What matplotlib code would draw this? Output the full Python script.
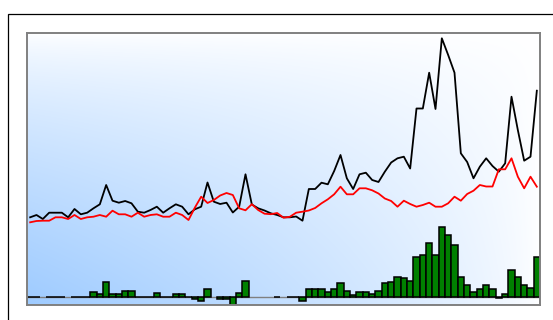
import numpy as np
import matplotlib
matplotlib.use('Agg')
import matplotlib.pyplot as plt
from matplotlib.patches import Rectangle

# series, one value per period
price = [79.2, 81.5, 77.5, 83.8, 83.8, 83.8, 79.2, 87.5, 82.2, 83.8,
         88.2, 92.2, 111.5, 95.8, 93.8, 95.5, 93.2, 84.8, 83.8, 86.5,
         89.8, 83.8, 88.2, 92.2, 89.8, 82.2, 87.2, 89.8, 114.0, 94.8,
         92.5, 93.8, 84.0, 89.8, 122.2, 92.0, 88.2, 86.0, 83.2, 81.5,
         79.2, 79.2, 80.0, 75.8, 107.5, 107.5, 113.8, 112.2, 125.5, 141.5,
         118.2, 107.5, 122.2, 123.8, 116.5, 114.5, 124.8, 134.0, 138.2, 139.8,
         128.0, 188.0, 188.0, 223.8, 187.5, 258.2, 241.5, 223.8, 143.2, 134.5,
         118.2, 129.8, 138.2, 130.5, 124.8, 133.2, 199.8, 166.5, 135.8, 139.8,
         205.8]

average = [74.2, 75.5, 75.8, 75.8, 79.2, 79.2, 77.5, 81.5, 77.5, 79.2,
           79.8, 81.5, 79.8, 85.8, 82.2, 82.2, 79.8, 83.8, 79.8, 81.5,
           82.2, 79.8, 79.8, 83.8, 81.5, 76.5, 88.8, 99.8, 93.5, 96.5,
           101.0, 103.5, 101.5, 88.2, 86.2, 92.3, 86.5, 82.8, 82.3, 83.5,
           78.8, 79.7, 83.8, 84.8, 86.0, 88.5, 93.2, 97.2, 102.2, 109.8,
           102.2, 102.2, 108.2, 108.2, 106.2, 103.0, 98.0, 95.5, 89.8, 95.8,
           92.5, 89.8, 91.5, 93.8, 89.8, 89.8, 93.2, 99.8, 95.8, 102.5,
           105.8, 111.5, 110.0, 110.0, 127.2, 127.2, 138.2, 119.8, 108.2, 119.8,
           109.8]

nan = float('nan')
histogram = [0, 0, nan, 0, 0, 0, nan, 0, 0, 0,
             4.2, 2.5, 14.2, 2.5, 2.5, 5.8, 5.8, 0, 0, 0,
             3.3, 0, 0, 3.0, 3.0, 0, -2.0, -4.5, 8.0, nan,
             -2.0, -2.0, -8.0, 4.0, 16.0, nan, nan, nan, nan, 0,
             nan, 0, 0, -4.0, 7.5, 7.5, 7.5, 4.8, 7.5, 13.8,
             5.3, 2.0, 4.8, 4.8, 2.8, 5.5, 13.5, 15.0, 19.7, 18.4,
             16.0, 40.0, 41.7, 54.0, 41.7, 70.0, 61.7, 51.7, 20.0, 11.7,
             5.0, 7.3, 11.7, 7.3, -1.7, 2.4, 26.7, 20.0, 11.7, 8.3,
             40.0]

x = np.arange(len(price))

fig = plt.figure(figsize=(5.53, 3.2), dpi=100)
ax = fig.add_axes([27 / 553, 1 - 305 / 320, 513 / 553, 272 / 320])

xlim = (-0.5, len(price) - 0.5)
ylim = (-8.5, 263.5)

# light blue in the lower left fading to white
xf = np.linspace(0, 1, 256)
yf = np.linspace(0, 1, 256)
t = (np.outer(1 - yf, 1 - xf)) ** 0.7
blue = np.array([158, 203, 255]) / 255
white = np.array([1.0, 1.0, 1.0])
img = white * (1 - t[..., None]) + blue * t[..., None]
ax.imshow(img, extent=(xlim[0], xlim[1], ylim[0], ylim[1]), origin='lower',
          aspect='auto', zorder=0, interpolation='bilinear')

ax.axhline(0, color='gray', lw=1, zorder=1)
ax.bar(x, histogram, width=1.0, color='#008000', edgecolor='black', lw=1.1, zorder=2)
ax.plot(x, price, color='black', lw=1.3, zorder=3)
ax.plot(x, average, color='red', lw=1.3, zorder=3)

ax.set_xlim(*xlim)
ax.set_ylim(*ylim)
ax.set_xticks([])
ax.set_yticks([])
for s in ax.spines.values():
    s.set_color('#808080')
    s.set_linewidth(1.4)

# frame around the figure, running past the right and bottom edge
fig.add_artist(Rectangle((7.5 / 553, -0.2), 1.0, 1.2 - 13.5 / 320, transform=fig.transFigure,
                         fill=False, edgecolor='black', lw=0.9))

fig.savefig('out.png', dpi=100)
plt.close(fig)
